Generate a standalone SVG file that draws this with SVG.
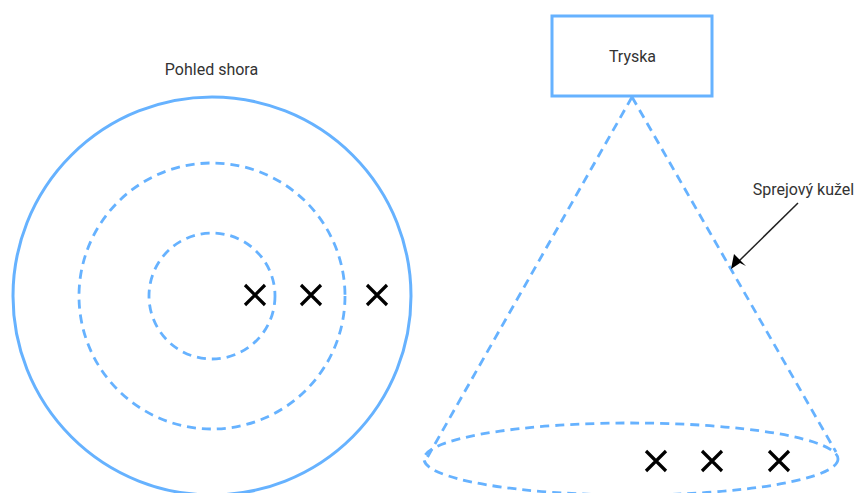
<svg xmlns="http://www.w3.org/2000/svg" width="855" height="493" viewBox="0 0 855 493">
<style>
.s{fill:none;stroke:#66b2ff;stroke-width:3}
.d{fill:none;stroke:#66b2ff;stroke-width:2.800;stroke-dasharray:9 6}
.x{fill:none;stroke:#000;stroke-width:3.200}
text{font-family:"Roboto","Liberation Sans",sans-serif;font-size:16px;fill:#333;text-anchor:middle}
</style>
<defs><path id="x" class="x" d="M-10-10L10 10M-10 10L10-10"/></defs>
<rect width="855" height="493" fill="#fff"/>
<g id="top-view">
<circle class="s" cx="212" cy="296" r="199"/>
<circle class="d" cx="212" cy="296" r="133"/>
<circle class="d" cx="212" cy="296" r="63"/>
<use href="#x" x="255" y="295"/><use href="#x" x="311" y="295"/><use href="#x" x="377" y="295"/>
<text x="211.500" y="75">Pohled shora</text>
</g>
<g id="nozzle"><rect class="s" x="552" y="16" width="160" height="80"/><text x="632.500" y="62">Tryska</text></g>
<g id="cone">
<ellipse class="d" cx="631" cy="459" rx="207" ry="36"/>
<path class="d" d="M632 97L427 458M632 97L836 452"/>
<use href="#x" x="656" y="461"/><use href="#x" x="712" y="461"/><use href="#x" x="779" y="461"/>
</g>
<g id="connectors"><path d="M798 203L738 262" fill="none" stroke="#222" stroke-width="1.500"/><path d="M731 269L734 254L746 266L740 263Z" fill="#000"/></g>
<g id="label"><text x="803.500" y="195">Sprejový kužel</text></g>
</svg>
